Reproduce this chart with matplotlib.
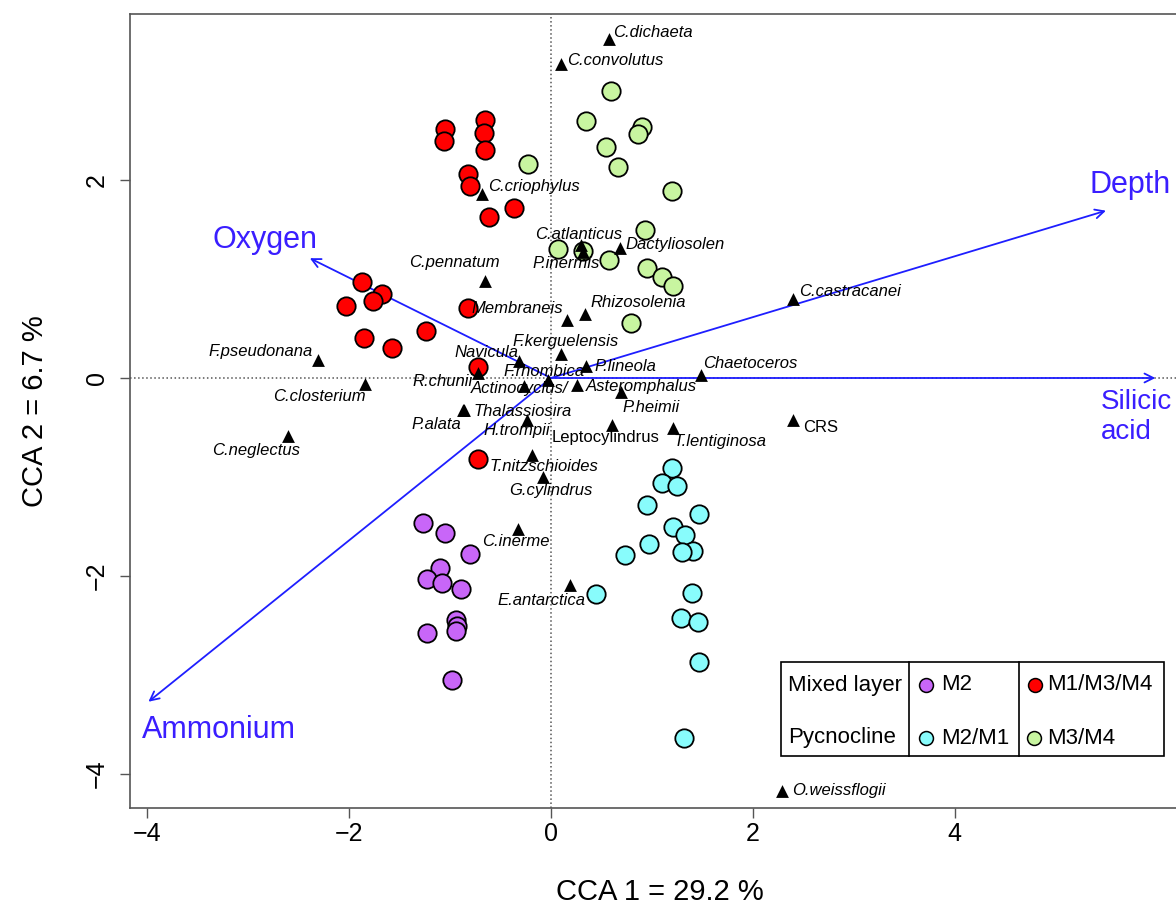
import numpy as np
import matplotlib
matplotlib.use('Agg')
from matplotlib import pyplot as plt
from matplotlib.patches import Rectangle

plt.rcParams['font.family'] = ['Liberation Sans', 'DejaVu Sans']

# Site scores, grouped by layer / station
mixed_m2_x = [-1.27, -1.05, -0.80, -1.10, -1.23, -1.08, -0.89, -0.94, -0.93, -0.94, -1.23, -0.98]
mixed_m2_y = [-1.46, -1.57, -1.78, -1.92, -2.03, -2.07, -2.13, -2.44, -2.51, -2.56, -2.58, -3.05]

mixed_m134_x = [-1.05, -1.06, -0.65, -0.66, -0.65, -0.82, -0.80, -0.37, -0.61, -1.87, -1.67,
                -1.76, -2.03, -0.82, -1.85, -1.24, -1.58, -0.72, -0.72]
mixed_m134_y = [2.52, 2.39, 2.61, 2.47, 2.30, 2.06, 1.94, 1.72, 1.63, 0.97, 0.85,
                0.78, 0.73, 0.71, 0.40, 0.47, 0.30, 0.11, -0.82]

pycno_m21_x = [1.20, 1.10, 1.25, 0.95, 1.47, 1.21, 1.33, 0.97, 1.41, 1.30, 0.73, 0.45,
               1.40, 1.29, 1.46, 1.47, 1.32]
pycno_m21_y = [-0.91, -1.06, -1.09, -1.28, -1.37, -1.50, -1.59, -1.68, -1.75, -1.76, -1.79, -2.18,
               -2.17, -2.42, -2.46, -2.87, -3.64]

pycno_m34_x = [0.59, 0.35, 0.90, 0.86, 0.55, 0.66, -0.23, 1.20, 0.93, 0.07, 0.32, 0.57,
               0.95, 1.10, 1.21, 0.79]
pycno_m34_y = [2.90, 2.60, 2.54, 2.46, 2.33, 2.13, 2.16, 1.89, 1.49, 1.30, 1.28, 1.19,
               1.11, 1.02, 0.93, 0.56]

# Species scores
species = ['C.dichaeta', 'C.convolutus', 'C.atlanticus', 'Dactyliosolen', 'P.inermis',
           'C.castracanei', 'Rhizosolenia', 'Membraneis', 'C.criophylus', 'C.pennatum',
           'F.pseudonana', 'C.closterium', 'C.neglectus', 'Navicula', 'R.chunii',
           'Actinocyclus/', 'F.rhombica', 'F.kerguelensis', 'P.lineola', 'Asteromphalus',
           'Chaetoceros', 'P.heimii', 'Thalassiosira', 'P.alata', 'H.trompii',
           'Leptocylindrus', 'T.lentiginosa', 'CRS', 'T.nitzschioides', 'G.cylindrus',
           'C.inerme', 'E.antarctica', 'O.weissflogii']
species_x = [0.57, 0.10, 0.30, 0.68, 0.32, 2.40, 0.34, 0.16, -0.68, -0.65,
             -2.31, -1.84, -2.61, -0.32, -0.72, -0.27, -0.03, 0.10, 0.35, 0.26,
             1.49, 0.69, -0.86, -0.87, -0.24, 0.60, 1.21, 2.40, -0.19, -0.08,
             -0.33, 0.19, 2.29]
species_y = [3.42, 3.17, 1.34, 1.31, 1.27, 0.80, 0.65, 0.59, 1.86, 0.98,
             0.18, -0.06, -0.59, 0.17, 0.05, -0.08, -0.02, 0.24, 0.12, -0.07,
             0.03, -0.14, -0.32, -0.32, -0.42, -0.47, -0.50, -0.42, -0.78, -1.00,
             -1.53, -2.09, -4.17]
# these two are not genus-species names, printed upright
upright = ['Leptocylindrus', 'CRS']

# Environmental vectors
env_names = ['Depth', 'Silicic\nacid', 'Oxygen', 'Ammonium']
env_x = [5.50, 5.99, -2.39, -3.99]
env_y = [1.69, 0.00, 1.21, -3.27]

# label placement for species (offset in points, ha)
lab_pos = {
    'C.dichaeta': (3, 5, 'left'), 'C.convolutus': (4, 3, 'left'),
    'C.atlanticus': (-2, 8, 'center'), 'Dactyliosolen': (4, 3, 'left'),
    'P.inermis': (-12, -8, 'center'), 'C.castracanei': (4, 5, 'left'),
    'Rhizosolenia': (4, 8, 'left'), 'Membraneis': (-3, 8, 'right'),
    'C.criophylus': (4, 5, 'left'), 'C.pennatum': (-22, 13, 'center'),
    'F.pseudonana': (-4, 6, 'right'), 'C.closterium': (0, -9, 'right'),
    'C.neglectus': (-23, -10, 'center'), 'Navicula': (0, 6, 'right'),
    'R.chunii': (-4, -6, 'right'), 'Actinocyclus/': (-3, -2, 'center'),
    'F.rhombica': (-3, 6, 'center'), 'F.kerguelensis': (3, 9, 'center'),
    'P.lineola': (6, 0, 'left'), 'Asteromphalus': (6, -1, 'left'),
    'Chaetoceros': (1, 8, 'left'), 'P.heimii': (1, -11, 'left'),
    'Thalassiosira': (7, -1, 'left'), 'P.alata': (-19, -11, 'center'),
    'H.trompii': (-7, -8, 'center'), 'Leptocylindrus': (-4, -9, 'center'),
    'T.lentiginosa': (0, -10, 'left'), 'CRS': (7, -6, 'left'),
    'T.nitzschioides': (9, -8, 'center'), 'G.cylindrus': (6, -10, 'center'),
    'C.inerme': (-1, -9, 'center'), 'E.antarctica': (-21, -11, 'center'),
    'O.weissflogii': (7, 0, 'left'),
}
env_pos = [(1130, 185, 'center', 22), (1101, 417, 'left', 20),
           (265, 240, 'center', 22), (219, 730, 'center', 22)]

fig = plt.figure(figsize=(11.76, 9.06), dpi=100)
ax = fig.add_axes([130/1176, 98/906, 1060/1176, 794/906])
x0, y0 = 551, 378
px_x, px_y = 100.9, 99.0
ax.set_xlim((130 - x0)/px_x, (1190 - x0)/px_x)
ax.set_ylim((y0 - 808)/px_y, (y0 - 14)/px_y)

ax.axhline(0, color='#555555', ls=':', lw=1.1, zorder=0)
ax.axvline(0, color='#555555', ls=':', lw=1.1, zorder=0)

circ = dict(s=175, edgecolors='black', linewidths=1.3, zorder=3)
ax.scatter(mixed_m2_x, mixed_m2_y, c='#C866F8', **circ)
ax.scatter(mixed_m134_x, mixed_m134_y, c='#FF0000', **circ)
ax.scatter(pycno_m21_x, pycno_m21_y, c='#88FCFC', **circ)
ax.scatter(pycno_m34_x, pycno_m34_y, c='#C8F5A0', **circ)

ax.scatter(species_x, species_y, marker='^', s=85, c='black', linewidths=0, zorder=4)
for name, sx, sy in zip(species, species_x, species_y):
    dx, dy, ha = lab_pos[name]
    ax.annotate(name, (sx, sy), xytext=(dx, dy), textcoords='offset points',
                ha=ha, va='center', fontsize=12,
                style='normal' if name in upright else 'italic', zorder=5)

for i in range(len(env_names)):
    ax.annotate('', xy=(env_x[i], env_y[i]), xytext=(0, 0),
                arrowprops=dict(arrowstyle='->', color='#1E1EFF', lw=1.3,
                                shrinkA=0, shrinkB=0, mutation_scale=16), zorder=2)
    tx, ty, ha, fs = env_pos[i]
    ax.text((tx - x0)/px_x, (y0 - ty)/px_y, env_names[i], color='#3A1EFF', fontsize=fs,
            ha=ha, va='center', linespacing=1.2)

# legend table
L, R = (781 - x0)/px_x, (1164 - x0)/px_x
T, B = (y0 - 662)/px_y, (y0 - 756)/px_y
ax.add_patch(Rectangle((L, B), R - L, T - B, fill=False, ec='black', lw=1.2, zorder=6))
for xd in [909, 1019]:
    ax.plot([(xd - x0)/px_x]*2, [B, T], color='black', lw=1.2, zorder=6)
row1, row2 = (y0 - 685)/px_y, (y0 - 738)/px_y
ax.text((788 - x0)/px_x, row1, 'Mixed layer', fontsize=16, va='center', zorder=7)
ax.text((788 - x0)/px_x, row2, 'Pycnocline', fontsize=16, va='center', zorder=7)
leg = dict(s=100, edgecolors='black', linewidths=1.1, zorder=7)
ax.scatter([(926 - x0)/px_x], [row1], c='#C866F8', **leg)
ax.scatter([(926 - x0)/px_x], [row2], c='#88FCFC', **leg)
ax.scatter([(1035 - x0)/px_x], [row1], c='#FF0000', **leg)
ax.scatter([(1034 - x0)/px_x], [row2], c='#C8F5A0', **leg)
ax.text((941 - x0)/px_x, row1, 'M2', fontsize=16, va='center', zorder=7)
ax.text((941 - x0)/px_x, row2, 'M2/M1', fontsize=16, va='center', zorder=7)
ax.text((1047 - x0)/px_x, row1, 'M1/M3/M4', fontsize=16, va='center', zorder=7)
ax.text((1047 - x0)/px_x, row2, 'M3/M4', fontsize=16, va='center', zorder=7)

ax.set_xticks([-4, -2, 0, 2, 4])
ax.set_yticks([-4, -2, 0, 2])
ax.set_xticklabels(['\u22124', '\u22122', '0', '2', '4'])
ax.set_yticklabels(['\u22124', '\u22122', '0', '2'], rotation=90, va='center')
ax.tick_params(labelsize=18, length=7, width=1, color='#555555')
ax.tick_params(axis='x', pad=3)
ax.tick_params(axis='y', pad=8)
for sp in ax.spines.values():
    sp.set_color('#555555')
    sp.set_linewidth(1.2)

ax.set_xlabel('CCA 1 = 29.2 %', fontsize=21, labelpad=23)
ax.set_ylabel('CCA 2 = 6.7 %', fontsize=21, labelpad=26)

fig.savefig('out.png', dpi=100)
